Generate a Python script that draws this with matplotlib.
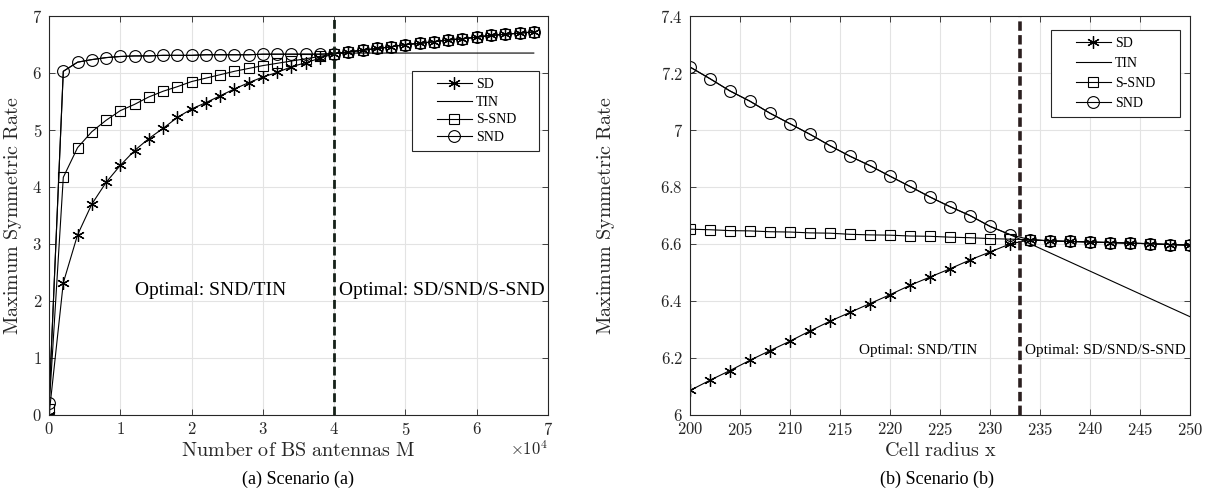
import numpy as np
import matplotlib
matplotlib.use('Agg')
import matplotlib.pyplot as plt
from matplotlib.ticker import FuncFormatter
from matplotlib.lines import Line2D
from matplotlib.legend_handler import HandlerLine2D

plt.rcParams['mathtext.fontset'] = 'cm'
plt.rcParams['font.family'] = 'Liberation Serif'

# Scenario (a): number of BS antennas M
M = np.arange(0, 68001, 2000)
tail_a = [6.37, 6.40, 6.43, 6.46, 6.50, 6.52, 6.55, 6.58, 6.60, 6.63, 6.66, 6.68, 6.70, 6.72]
sd_a = [0.0, 2.32, 3.16, 3.70, 4.08, 4.38, 4.64, 4.85, 5.03, 5.22, 5.37, 5.48, 5.60, 5.72,
        5.83, 5.93, 6.01, 6.11, 6.18, 6.26, 6.34] + tail_a
ssnd_a = [0.11, 4.17, 4.69, 4.97, 5.17, 5.34, 5.45, 5.58, 5.68, 5.76, 5.85, 5.91, 5.97, 6.03,
          6.08, 6.13, 6.17, 6.21, 6.25, 6.29, 6.34] + tail_a
snd_head_a = [0.21, 6.03, 6.19, 6.235, 6.27, 6.29, 6.30, 6.30, 6.31, 6.31, 6.31, 6.32, 6.32,
              6.32, 6.32, 6.33, 6.33, 6.33, 6.33, 6.33, 6.34]
snd_a = snd_head_a + tail_a
tin_a = snd_head_a + [6.35] * 14
switch_a = 40000

# Scenario (b): cell radius x
R = np.arange(200, 251, 2)
tail_b = [6.615, 6.611, 6.609, 6.607, 6.605, 6.603, 6.601, 6.598, 6.596]
snd_head_b = [7.221, 7.180, 7.137, 7.101, 7.059, 7.022, 6.985, 6.945, 6.908, 6.875, 6.838,
              6.802, 6.765, 6.731, 6.700, 6.662, 6.633]
snd_b = snd_head_b + tail_b
ssnd_b = [6.652, 6.650, 6.647, 6.646, 6.643, 6.642, 6.639, 6.638, 6.634, 6.632, 6.631,
          6.628, 6.627, 6.624, 6.622, 6.619, 6.617] + tail_b
sd_b = [6.086, 6.122, 6.156, 6.192, 6.226, 6.259, 6.295, 6.329, 6.360, 6.391, 6.422,
        6.455, 6.484, 6.513, 6.544, 6.572, 6.600] + tail_b
tin_b = snd_head_b + [6.601, 6.569, 6.537, 6.505, 6.473, 6.441, 6.409, 6.377, 6.345]
switch_b = 233

fig = plt.figure(figsize=(12.05, 4.88), dpi=100)
ax1 = fig.add_axes([0.0407, 0.1496, 0.4141, 0.8176])
ax2 = fig.add_axes([0.5726, 0.1496, 0.4149, 0.8176])

mfmt = FuncFormatter(lambda v, p: '$%g$' % v)


def style(ax):
    ax.grid(True, color='#e3e3e3', linewidth=0.8)
    ax.set_axisbelow(True)
    for s in ax.spines.values():
        s.set_color('#262626')
        s.set_linewidth(0.8)
    ax.tick_params(direction='in', top=True, right=True, length=4, width=0.6,
                   colors='#262626', labelsize=12, pad=5)


def curves(ax, x, sd, tin, ssnd, snd):
    ax.plot(x, sd, '-', color='k', lw=0.8, marker=(6, 2, 0), ms=9, mew=0.9, label='SD')
    ax.plot(x, tin, '-', color='k', lw=0.8, label='TIN')
    ax.plot(x, ssnd, '-', color='k', lw=0.8, marker='s', ms=6.5, mfc='none', mew=0.8, label='S-SND')
    ax.plot(x, snd, '-', color='k', lw=0.8, marker='o', ms=8.5, mfc='none', mew=0.8, label='SND')


def legend(ax, box, spacing):
    leg = ax.legend(loc='upper left', bbox_to_anchor=box, mode='expand', borderaxespad=0,
                    fontsize=10, fancybox=False, edgecolor='#262626', framealpha=1,
                    handlelength=3.8, labelspacing=spacing, handletextpad=0.3, borderpad=0.5,
                    handler_map={Line2D: HandlerLine2D(xpad=1.3)})
    leg.get_frame().set_linewidth(0.8)


# ---- (a)
style(ax1)
curves(ax1, M, sd_a, tin_a, ssnd_a, snd_a)
ax1.axvline(switch_a, color='#152018', lw=2, ls=(0, (3.2, 1.6)))
ax1.set_xlim(0, 70000)
ax1.set_ylim(0, 7)
ax1.set_xticks(np.arange(0, 70001, 10000))
ax1.xaxis.set_major_formatter(FuncFormatter(lambda v, p: '$%g$' % (v / 1e4)))
ax1.yaxis.set_major_formatter(mfmt)
ax1.set_xlabel(r'$\mathrm{Number\ of\ BS\ antennas\ M}$', fontsize=14.5, color='#262626')
ax1.set_ylabel(r'$\mathrm{Maximum\ Symmetric\ Rate}$', fontsize=14.5, color='#262626')
ax1.xaxis.set_label_coords(0.5, -0.068)
ax1.yaxis.set_label_coords(-0.05, 0.5)
ax1.text(1.0, -0.087, r'$\times10^4$', transform=ax1.transAxes, ha='right', va='center',
         fontsize=12, color='#262626')
ax1.text(22700, 2.19, 'Optimal: SND/TIN', ha='center', va='center', fontsize=14)
ax1.text(40700, 2.19, 'Optimal: SD/SND/S-SND', ha='left', va='center', fontsize=14)
legend(ax1, (0.7275, 0, 0.2545, 0.862), 0.34)
fig.text(0.247, 0.018, '(a) Scenario (a)', ha='center', va='center', fontsize=13)

# ---- (b)
style(ax2)
curves(ax2, R, sd_b, tin_b, ssnd_b, snd_b)
ax2.axvline(switch_b, color='#2b1f1f', lw=2.6, ls=(0, (2.6, 1.2)))
ax2.set_xlim(200, 250)
ax2.set_ylim(6, 7.4)
ax2.set_xticks(np.arange(200, 251, 5))
ax2.set_yticks([6, 6.2, 6.4, 6.6, 6.8, 7, 7.2, 7.4])
ax2.xaxis.set_major_formatter(mfmt)
ax2.yaxis.set_major_formatter(mfmt)
ax2.set_xlabel(r'$\mathrm{Cell\ radius\ x}$', fontsize=14.5, color='#262626')
ax2.set_ylabel(r'$\mathrm{Maximum\ Symmetric\ Rate}$', fontsize=14.5, color='#262626')
ax2.xaxis.set_label_coords(0.5, -0.068)
ax2.yaxis.set_label_coords(-0.146, 0.5)
ax2.text(222.8, 6.228, 'Optimal: SND/TIN', ha='center', va='center', fontsize=11)
ax2.text(233.5, 6.228, 'Optimal: SD/SND/S-SND', ha='left', va='center', fontsize=11)
legend(ax2, (0.722, 0, 0.258, 0.965), 0.5)
fig.text(0.778, 0.018, '(b) Scenario (b)', ha='center', va='center', fontsize=13)

fig.savefig('out.png', dpi=100)
